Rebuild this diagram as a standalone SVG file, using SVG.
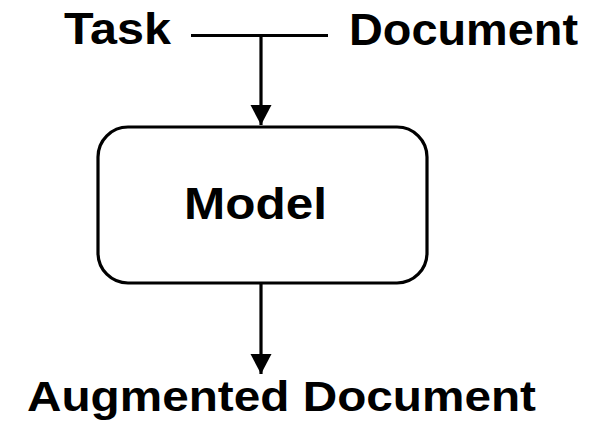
<svg xmlns="http://www.w3.org/2000/svg" width="600" height="423" viewBox="0 0 600 423">
  <style>
    .label { font-family: "Liberation Sans", Arial, sans-serif; font-weight: bold; font-size: 44px; fill: #000; }
    .edge { stroke: #000; stroke-width: 3.2; fill: none; }
    .box { stroke: #000; stroke-width: 3.2; fill: #fff; }
  </style>
  <defs>
    <marker id="arrow" markerUnits="userSpaceOnUse" markerWidth="22" markerHeight="22" refX="20" refY="10.5" orient="auto">
      <path d="M0,0 L20,10.5 L0,21 Z" fill="#000"/>
    </marker>
  </defs>

  <g id="task">
    <text class="label" x="64" y="44" textLength="107" lengthAdjust="spacingAndGlyphs">Task</text>
  </g>
  <g id="document">
    <text class="label" x="349" y="45" textLength="229" lengthAdjust="spacingAndGlyphs">Document</text>
  </g>
  <g id="model">
    <rect class="box" x="98" y="127" width="329" height="156" rx="30" ry="30"/>
    <text class="label" x="184" y="219" style="font-size:45px" textLength="143" lengthAdjust="spacingAndGlyphs">Model</text>
  </g>
  <g id="augmented-document">
    <text class="label" x="27" y="411" style="font-size:43px" textLength="509" lengthAdjust="spacingAndGlyphs">Augmented Document</text>
  </g>

  <g id="connectors">
    <!-- inputs join on a bar, then feed the model -->
    <line class="edge" x1="191" y1="35.5" x2="328" y2="35.5"/>
    <line class="edge" x1="261" y1="35.5" x2="261" y2="125" marker-end="url(#arrow)"/>
    <!-- model output -->
    <line class="edge" x1="261" y1="283" x2="261" y2="374" marker-end="url(#arrow)"/>
  </g>
</svg>
